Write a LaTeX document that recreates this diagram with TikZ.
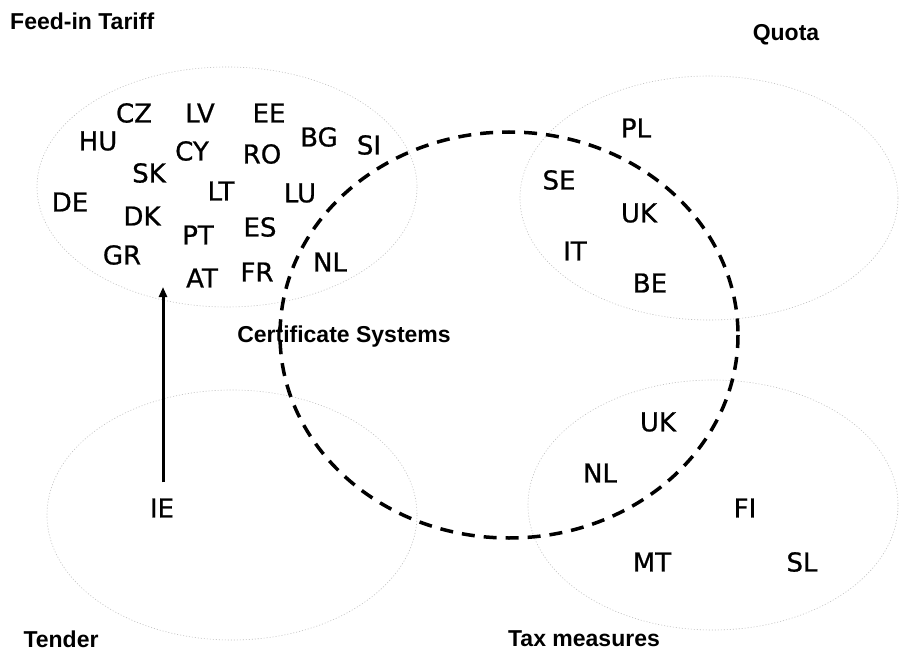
\documentclass[tikz,border=0pt]{standalone}
\usepackage{fontspec}
\setmainfont{DejaVu Sans}
\newfontfamily\ccfont[FakeBold=0.8]{DejaVu Sans}
\newfontfamily\labelfont{Liberation Sans}
\usetikzlibrary{arrows.meta}
\tikzset{
  faint/.style={draw=gray!50, line width=0.6pt, dash pattern=on 1pt off 2pt},
  cert/.style={draw=black, line width=3.5pt, dash pattern=on 13pt off 9pt},
  cc/.style={inner sep=0pt, font=\ccfont\fontsize{26}{26}\selectfont},
  grp/.style={inner sep=0pt, font=\labelfont\bfseries\fontsize{23}{23}\selectfont},
  arr/.style={line width=3pt, -{Triangle[length=10pt,width=8pt]}}
}
\begin{document}
\begin{tikzpicture}[x=1pt,y=-1pt]
\useasboundingbox[fill=white] (0,0) rectangle (899,652);
% faint group ellipses
\draw[faint] (227,187) ellipse [x radius=190, y radius=120];
\draw[faint] (709,198) ellipse [x radius=189, y radius=122];
\draw[faint] (232,515) ellipse [x radius=185, y radius=125];
\draw[faint] (713,505) ellipse [x radius=185, y radius=125];
% certificate systems
\draw[cert] (509,335) ellipse [x radius=229, y radius=203];
% group labels
\node[grp, anchor=base west] (lfit) at (10,30) {Feed-in Tariff};
\node[grp] (lquota) at (786,35) {Quota};
\node[grp] (lcert) at (344,337) {Certificate Systems};
\node[grp] (ltender) at (61,639) {Tender};
\node[grp] (ltax) at (584,639) {Tax measures};
% feed-in tariff countries
\node[cc] (cz) at (134,113) {CZ};
\node[cc] (lv) at (200,113) {LV};
\node[cc] (ee) at (269,113) {EE};
\node[cc] (hu) at (98,141) {HU};
\node[cc] (cy) at (192,151) {CY};
\node[cc] (ro) at (262,154) {RO};
\node[cc] (bg) at (319,137) {BG};
\node[cc] (si) at (369,145) {SI};
\node[cc] (sk) at (149,173) {SK};
\node[cc] (lt) at (221,191) {LT};
\node[cc] (lu) at (300,193) {LU};
\node[cc] (de) at (70,202) {DE};
\node[cc] (dk) at (142,216) {DK};
\node[cc] (pt) at (198,235) {PT};
\node[cc] (es) at (260,227) {ES};
\node[cc] (gr) at (122,255) {GR};
\node[cc] (nla) at (330,262) {NL};
\node[cc] (at) at (202,278) {AT};
\node[cc] (fr) at (257,272) {FR};
% quota countries
\node[cc] (pl) at (636,128) {PL};
\node[cc] (se) at (559,180) {SE};
\node[cc] (uka) at (639,213) {UK};
\node[cc] (it) at (575,251) {IT};
\node[cc] (be) at (650,283) {BE};
% tax countries
\node[cc] (ukb) at (658,422) {UK};
\node[cc] (nlb) at (600,473) {NL};
\node[cc] (fi) at (745,508) {FI};
\node[cc] (mt) at (652,562) {MT};
\node[cc] (sl) at (802,562) {SL};
% tender
\node[cc] (ie) at (162,508) {IE};
\coordinate (tip) at (163,287);
\draw[arr] (ie.north -| tip) ++(0,-16) -- (tip);
\end{tikzpicture}
\end{document}
